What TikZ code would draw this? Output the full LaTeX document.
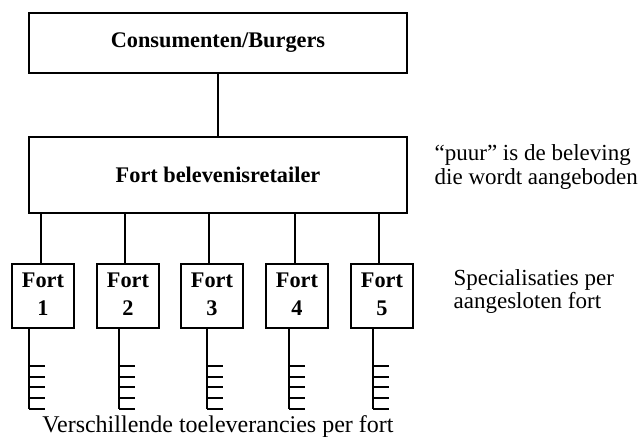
\documentclass[tikz,border=0pt]{standalone}
\usepackage{fontspec}
\setmainfont{Liberation Serif}
\begin{document}
\begin{tikzpicture}[x=1pt,y=-1pt,
  every path/.style={line width=1.3pt},
  bigbox/.style={draw, line width=1.3pt, minimum width=378pt, inner sep=0pt,
    font=\fontsize{22.3}{26}\selectfont\bfseries},
  fortbox/.style={draw, line width=1.3pt, minimum width=62pt, minimum height=64pt,
    inner sep=0pt, align=center, font=\fontsize{22.3}{28.5}\selectfont\bfseries},
  note/.style={anchor=base west, inner sep=0pt, font=\fontsize{23}{26}\selectfont}]
\useasboundingbox (0,0) rectangle (639,436);

% top level
\node[bigbox, minimum height=60pt] (cons) at (218,43) {Consumenten/Burgers};
\node[bigbox, minimum height=76pt] (ret) at (218,175) {Fort belevenisretailer};
\draw (cons) -- (ret);

% the five forts with their supply lines
\foreach \i/\cx/\lx/\sx in {1/43/41/29, 2/128/125/119, 3/212/209/207, 4/297/295/289, 5/382/379/373} {
  \node[fortbox] (f\i) at (\cx,296) {\strut Fort\\\strut\i};
  \coordinate (l\i) at (\lx,0);
  \draw (l\i |- ret.south) -- (l\i |- f\i.north);
  \coordinate (s\i) at (\sx,409);
  \draw (s\i |- f\i.south) -- (s\i);
  \foreach \t in {366,377,387,398,409}
    \draw (\sx,\t) -- ++(16,0);
}

% annotations
\node[note] (n1) at (434,160) {“puur” is de beleving};
\node[note] (n2) at (434,184) {die wordt aangeboden};
\node[note] (n3) at (453,285) {Specialisaties per};
\node[note] (n4) at (453,308) {aangesloten fort};
\node[note, anchor=base, font=\fontsize{24}{26}\selectfont] (n5) at (218,432) {Verschillende toeleverancies per fort};
\end{tikzpicture}
\end{document}
